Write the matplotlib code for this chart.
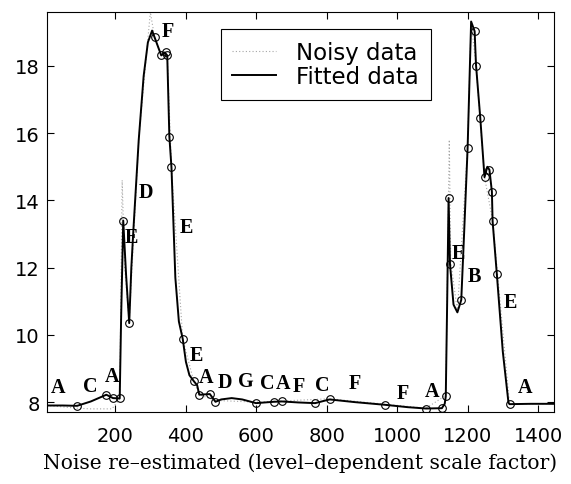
import numpy as np
import matplotlib
matplotlib.use("Agg")
import matplotlib.pyplot as plt

plt.rcParams['font.family'] = ['DejaVu Sans']

# fitted curve
fit_x = [5, 50, 91, 130, 174, 193, 212, 216, 222, 230, 239, 245, 251, 266, 280,
         292, 304, 311, 330, 340, 347, 353, 359, 370, 380, 391, 400, 410, 422,
         432, 438, 468, 484, 500, 530, 560, 599, 649, 673, 720, 767, 808, 880,
         966, 1030, 1082, 1127, 1135, 1138, 1142, 1146, 1150, 1160, 1171, 1182,
         1190, 1200, 1210, 1220, 1222, 1224, 1236, 1248, 1256, 1262, 1269, 1271,
         1283, 1300, 1316, 1319, 1380, 1445]
fit_y = [7.90, 7.90, 7.89, 8.02, 8.22, 8.12, 8.11, 10.5, 13.40, 11.8, 10.35, 12.0,
         13.15, 15.8, 17.7, 18.7, 19.05, 18.85, 18.31, 18.4, 18.31, 15.90, 14.98,
         11.7, 10.4, 9.88, 9.2, 8.8, 8.63, 8.5, 8.22, 8.24, 8.01, 8.08, 8.12, 8.08,
         7.97, 8.01, 8.02, 7.99, 7.97, 8.08, 8.0, 7.92, 7.85, 7.81, 7.82, 7.95,
         8.17, 11.0, 14.07, 12.1, 10.9, 10.67, 11.04, 13.0, 15.55, 19.32, 19.03,
         18.5, 18.01, 16.45, 14.69, 15.0, 14.91, 14.26, 13.38, 11.81, 9.5, 7.99,
         7.94, 7.95, 7.95]

# knots marked with circles
knot_x = [91, 174, 193, 212, 222, 239, 311, 330, 343, 347, 353, 359, 391, 422,
          438, 468, 484, 599, 649, 673, 767, 808, 966, 1082, 1127, 1138, 1146,
          1150, 1182, 1200, 1220, 1224, 1236, 1248, 1262, 1269, 1271, 1283, 1319]
knot_y = [7.89, 8.22, 8.12, 8.11, 13.40, 10.35, 18.85, 18.31, 18.4, 18.31, 15.90,
          14.98, 9.88, 8.63, 8.22, 8.24, 8.01, 7.97, 8.01, 8.02, 7.97, 8.08, 7.92,
          7.81, 7.82, 8.17, 14.07, 12.1, 11.04, 15.55, 19.03, 18.01, 16.45, 14.69,
          14.91, 14.26, 13.38, 11.81, 7.94]

# noisy data (faint dotted)
noisy_x = [5, 91, 130, 190, 212, 219, 226, 239, 266, 299, 311, 330, 347, 359,
           391, 422, 438, 484, 600, 808, 1082, 1138, 1148, 1152, 1171, 1200,
           1210, 1224, 1248, 1271, 1319, 1445]
noisy_y = [7.90, 7.82, 7.80, 7.80, 8.10, 14.6, 12.0, 10.4, 15.8, 19.6, 18.85,
           18.31, 18.31, 14.98, 9.88, 8.63, 8.22, 8.05, 8.0, 8.1, 7.82, 8.2,
           15.8, 12.2, 10.7, 15.6, 19.3, 18.0, 14.7, 13.4, 7.95, 7.95]

# segment letters
lab_txt = ['A', 'C', 'A', 'E', 'D', 'F', 'E', 'E', 'A', 'D', 'G', 'C', 'A', 'F',
           'C', 'F', 'F', 'A', 'E', 'B', 'E', 'A']
lab_x = [38, 129, 189, 245, 287, 349, 400, 429, 457, 512, 569, 630, 677, 720,
         786, 881, 1016, 1098, 1174, 1219, 1321, 1363]
lab_y = [8.45, 8.49, 8.78, 12.9, 14.24, 19.05, 13.2, 9.4, 8.75, 8.59, 8.62, 8.56,
         8.56, 8.49, 8.52, 8.57, 8.26, 8.34, 12.45, 11.76, 10.97, 8.44]

fig = plt.figure(figsize=(5.71, 4.85), dpi=100)
ax = fig.add_axes([0.082, 0.148, 0.888, 0.825])

ax.plot(noisy_x, noisy_y, color='0.65', linestyle=(0, (1, 2)), linewidth=0.8,
        label='Noisy data')
ax.plot(fit_x, fit_y, color='black', linewidth=1.4, label='Fitted data')
ax.plot(knot_x, knot_y, 'o', mfc='none', mec='black', ms=5.5, mew=0.8)

for t, x, y in zip(lab_txt, lab_x, lab_y):
    ax.text(x, y, t, ha='center', va='center', fontsize=14.5, fontweight='bold',
            family=['Liberation Serif', 'DejaVu Serif'])

ax.set_xlim(5, 1445)
ax.set_ylim(7.7, 19.6)
ax.set_xticks([200, 400, 600, 800, 1000, 1200, 1400])
ax.set_yticks([8, 10, 12, 14, 16, 18])
ax.tick_params(direction='in', top=True, right=True, length=5, labelsize=14)
ax.tick_params(axis='x', pad=10)
ax.tick_params(axis='y', pad=5)
ax.set_xlabel('Noise re\u2013estimated (level\u2013dependent scale factor)',
              fontsize=14.6, family=['DejaVu Serif'], labelpad=5)

leg = ax.legend(loc='upper left', bbox_to_anchor=(0.343, 0.9575),
                borderaxespad=0, fontsize=16.5, frameon=True, fancybox=False,
                edgecolor='black', framealpha=1, handlelength=1.9,
                handletextpad=0.9, borderpad=0.5, labelspacing=0.08)
leg.get_frame().set_linewidth(0.8)

fig.savefig('out.png', dpi=100)
